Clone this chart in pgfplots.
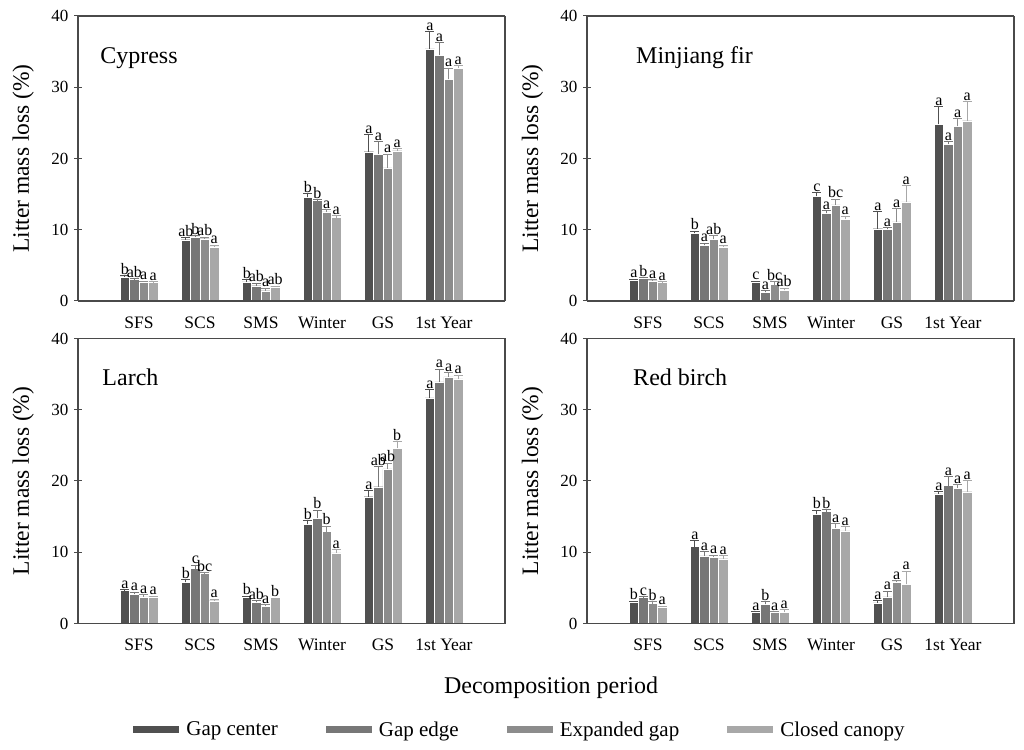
\documentclass[border=0pt]{standalone}
\usepackage{pgfplots}
\pgfplotsset{compat=1.18}
\usepackage{pgfplotstable}
\usepackage{fontspec}
\setmainfont{Liberation Serif}

\definecolor{c1}{HTML}{505050}
\definecolor{c2}{HTML}{777777}
\definecolor{c3}{HTML}{8C8C8C}
\definecolor{c4}{HTML}{A8A8A8}
\definecolor{axc}{HTML}{4A4A4A}

% mean, upper error, letter for the four gap positions
\pgfplotstableread{
x g1 e1 l1 g2 e2 l2 g3 e3 l3 g4 e4 l4
0 3.4 0.2 b 3.0 0.1 ab 2.7 0.1 a 2.6 0.1 a
1 8.6 0.3 ab 9.0 0.2 b 8.75 0.2 ab 7.6 0.25 a
2 2.7 0.25 b 2.15 0.35 ab 1.45 0.35 a 2.0 0.1 ab
3 14.55 0.5 b 14.1 0.1 b 12.5 0.3 a 11.7 0.3 a
4 20.96 2.4 a 20.6 1.8 a 18.7 1.9 a 21.1 0.3 a
5 35.4 2.45 a 34.5 1.8 a 31.1 1.6 a 32.7 0.3 a
}\cypress
\pgfplotstableread{
x g1 e1 l1 g2 e2 l2 g3 e3 l3 g4 e4 l4
0 2.95 0.1 a 3.2 0.1 b 2.85 0.1 a 2.6 0.1 a
1 9.5 0.3 b 7.8 0.3 a 8.65 0.5 ab 7.6 0.25 a
2 2.7 0.1 c 1.2 0.3 a 2.3 0.4 bc 1.5 0.3 ab
3 14.7 0.5 c 12.3 0.4 a 13.5 0.8 bc 11.5 0.4 a
4 10.15 2.35 a 10.05 0.25 a 11.1 1.9 a 13.9 2.3 a
5 24.8 2.5 a 22.0 0.4 a 24.5 1.1 a 25.3 2.7 a
}\minjiang
\pgfplotstableread{
x g1 e1 l1 g2 e2 l2 g3 e3 l3 g4 e4 l4
0 4.7 0.05 a 4.1 0.3 a 3.75 0.3 a 3.75 0.1 a
1 5.77 0.4 b 7.7 0.5 c 7.0 0.15 bc 3.2 0.2 a
2 3.75 0.1 b 2.95 0.3 ab 2.45 0.2 a 3.5 0.05 b
3 13.9 0.5 b 14.8 1.1 b 12.9 0.75 b 9.9 0.5 a
4 17.8 0.85 a 19.2 2.8 ab 21.7 0.8 ab 24.6 0.9 b
5 31.65 1.2 a 33.9 1.8 a 34.6 0.6 a 34.35 0.5 a
}\larch
\pgfplotstableread{
x g1 e1 l1 g2 e2 l2 g3 e3 l3 g4 e4 l4
0 3.05 0.1 b 3.65 0.1 c 2.8 0.25 b 2.35 0.1 a
1 10.8 0.8 a 9.5 0.6 a 9.3 0.3 a 9.1 0.45 a
2 1.6 0.1 a 2.7 0.35 b 1.6 0.1 a 1.6 0.3 a
3 15.3 0.6 b 15.7 0.3 b 13.4 0.65 a 13.0 0.6 a
4 2.9 0.3 a 3.75 0.8 a 5.85 0.15 a 5.5 1.85 a
5 18.2 0.3 a 19.35 1.25 a 19.0 0.45 a 18.5 1.55 a
}\redbirch

\pgfplotsset{
  panel/.style={
    width=427pt, height=285pt, scale only axis, anchor=south west,
    ybar=0pt, bar width=0.154,
    xmin=-1, xmax=6, ymin=0, ymax=40, clip=false,
    separate axis lines, axis on top,
    ytick={0,10,20,30,40}, ytick pos=left,
    xtick={0,...,5}, xticklabels={SFS,SCS,SMS,Winter,GS,1st Year},
    x tick style={/pgfplots/major tick length=0pt},
    y tick style={axc, line width=1pt},
    tick align=center, major tick length=8pt,
    axis line style={axc, line width=1.2pt},
    /pgf/number format/assume math mode=true,
    yticklabel style={font=\fontsize{17}{17}\selectfont, xshift=-2pt},
    xticklabel style={font=\fontsize{17.5}{17.5}\selectfont, yshift=-8pt},
    ylabel={Litter mass loss (\%)},
    ylabel style={at={(axis description cs:-0.128,0.5)}, anchor=center,
      font=\fontsize{23.5}{23.5}\selectfont},
    legend image code/.code={\fill[##1, draw=none] (0pt,-3.5pt) rectangle (46pt,3.5pt);},
  },
  ser/.style n args={2}{
    fill=#1, draw=white, line width=0.3pt,
    /pgfplots/point meta=explicit symbolic,
    /pgfplots/nodes near coords={\pgfplotspointmeta},
    /pgfplots/visualization depends on={\thisrow{#2}\as\myerr},
    /pgfplots/every node near coord/.append style={
      font=\fontsize{16}{16}\selectfont, inner sep=1pt, text=black,
      yshift={\myerr*7.125pt}},
    /pgfplots/error bars/.cd, y dir=plus, y explicit,
    error bar style={draw=#1, line width=1pt},
    error mark options={rotate=90, mark size=4.5pt, draw=#1, line width=1pt},
  },
}

\newcommand{\bars}[1]{%
  \addplot[ser={c1}{e1}] table[x=x,y=g1,y error=e1,meta=l1]{#1};
  \addplot[ser={c2}{e2}] table[x=x,y=g2,y error=e2,meta=l2]{#1};
  \addplot[ser={c3}{e3}] table[x=x,y=g3,y error=e3,meta=l3]{#1};
  \addplot[ser={c4}{e4}] table[x=x,y=g4,y error=e4,meta=l4]{#1};
}

\begin{document}
\begin{tikzpicture}
\path[use as bounding box] (0,0) rectangle (1024pt,749pt);

\begin{axis}[panel, at={(78pt,448pt)}]
\bars{\cypress}
\node[anchor=base west, font=\fontsize{24}{24}\selectfont] at (axis description cs:0.044,0.835) {Cypress};
\end{axis}

\begin{axis}[panel, at={(587pt,448pt)}]
\bars{\minjiang}
\node[anchor=base west, font=\fontsize{24}{24}\selectfont] at (axis description cs:0.107,0.835) {Minjiang fir};
\end{axis}

\begin{axis}[panel, at={(78pt,125.5pt)},
  legend style={at={(1.035,-0.372)}, anchor=center, draw=none, fill=none,
    font=\fontsize{21}{21}\selectfont, legend columns=4,
    /tikz/every odd column/.append style={column sep=5pt},
    /tikz/every even column/.append style={column sep=46pt}}]
\bars{\larch}
\node[anchor=base west, font=\fontsize{24}{24}\selectfont] at (axis description cs:0.049,0.835) {Larch};
\legend{Gap center,Gap edge,Expanded gap,Closed canopy}
\end{axis}

\begin{axis}[panel, at={(587pt,125.5pt)}]
\bars{\redbirch}
\node[anchor=base west, font=\fontsize{24}{24}\selectfont] at (axis description cs:0.1,0.835) {Red birch};
\end{axis}

\node[anchor=base, font=\fontsize{24}{24}\selectfont] at (551pt,56pt) {Decomposition period};
\end{tikzpicture}
\end{document}
